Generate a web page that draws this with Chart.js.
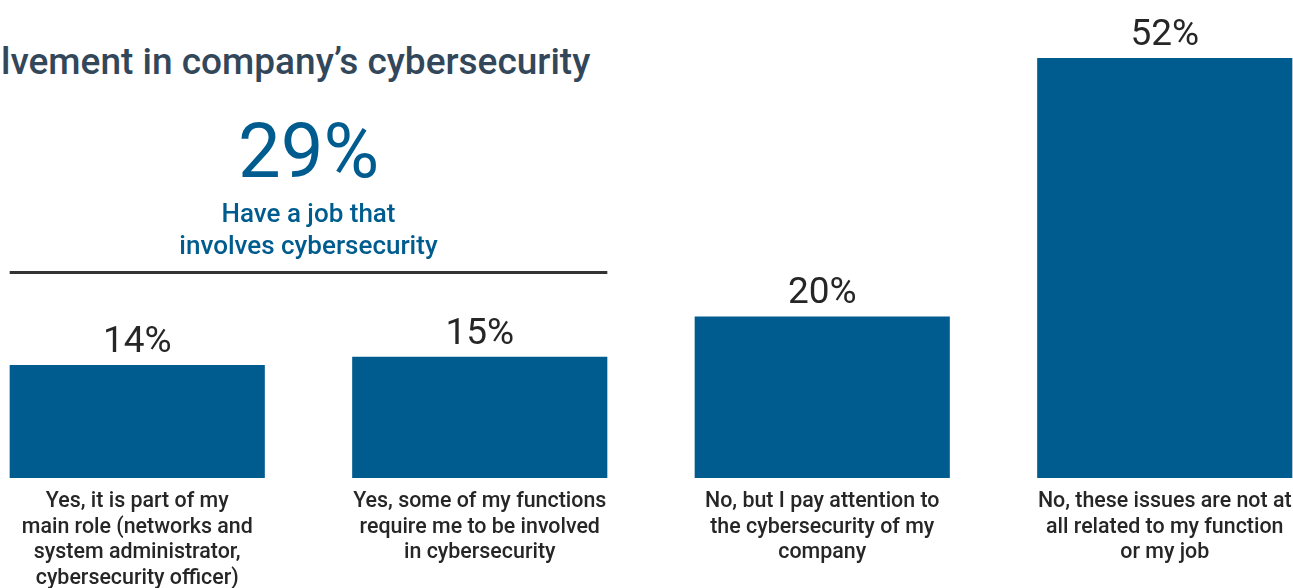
<!DOCTYPE html>
<html>
<head>
<meta charset="utf-8">
<script src="https://cdn.jsdelivr.net/npm/chart.js@4/dist/chart.umd.min.js"></script>
<style>
  html, body { margin: 0; padding: 0; background: #fff; }
  #wrap { position: relative; width: 1293px; height: 588px; overflow: hidden; font-family: Roboto, sans-serif; }
  #title { position: absolute; left: 1px; top: 39px; font-size: 37px; font-weight: 500; color: #33475b; white-space: nowrap; line-height: 46px; }
  #chart { position: absolute; left: -34px; top: 0; }
</style>
</head>
<body>
<div id="wrap">
  <div id="title">lvement in company’s cybersecurity</div>
  <canvas id="chart" width="1370" height="588"></canvas>
</div>
<script>
// answers (each label split into the lines shown under the bar)
var categories = [
  ['Yes, it is part of my', 'main role (networks and', 'system administrator,', 'cybersecurity officer)'],
  ['Yes, some of my functions', 'require me to be involved', 'in cybersecurity'],
  ['No, but I pay attention to', 'the cybersecurity of my', 'company'],
  ['No, these issues are not at', 'all related to my function', 'or my job']
];
var shares = [14, 15, 20, 52]; // % of respondents
var groupLabel = ['Have a job that', 'involves cybersecurity']; // covers the two "Yes" answers

var BLUE = '#005c8f';
var TEXT = '#262626';

// labels, category text and the bracket over the "Yes" bars
var labelPlugin = {
  id: 'labels',
  afterDatasetsDraw: function(chart) {
    var ctx = chart.ctx;
    var bars = chart.getDatasetMeta(0).data;
    ctx.save();
    ctx.textAlign = 'center';

    bars.forEach(function(bar, i) {
      //value above each bar
      ctx.fillStyle = TEXT;
      ctx.font = '37px Roboto';
      ctx.textBaseline = 'alphabetic';
      ctx.fillText(shares[i] + '%', bar.x, bar.y - 13);

      //category text under the bar
      ctx.font = '500 21.4px Roboto';
      ctx.textBaseline = 'middle';
      categories[i].forEach(function(line, j) {
        ctx.fillText(line, bar.x, chart.chartArea.bottom + 24 + j * 25.5);
      });
    });

    //bracket for the two "Yes" answers
    var left = bars[0].x - bars[0].width / 2;
    var right = bars[1].x + bars[1].width / 2;
    var mid = (left + right) / 2;
    ctx.strokeStyle = '#333';
    ctx.lineWidth = 3;
    ctx.beginPath();
    ctx.moveTo(left, 272.5);
    ctx.lineTo(right, 272.5);
    ctx.stroke();

    ctx.fillStyle = BLUE;
    ctx.font = '76px Roboto';
    ctx.textBaseline = 'alphabetic';
    ctx.fillText((shares[0] + shares[1]) + '%', mid, 177);

    ctx.font = '500 26px Roboto';
    ctx.textBaseline = 'middle';
    groupLabel.forEach(function(line, j) {
      ctx.fillText(line, mid, 215 + j * 32);
    });
    ctx.restore();
  }
};

new Chart(document.getElementById('chart'), {
  type: 'bar',
  data: {
    labels: categories,
    datasets: [{
      data: shares,
      backgroundColor: BLUE,
      borderWidth: 0,
      barPercentage: 0.745,
      categoryPercentage: 1
    }]
  },
  options: {
    responsive: false,
    animation: false,
    layout: { padding: { top: 58, bottom: 110, left: 0, right: 0 } },
    plugins: {
      legend: { display: false },
      tooltip: { enabled: false }
    },
    scales: {
      x: { display: false },
      y: { display: false, min: 0, max: 52 }
    }
  },
  plugins: [labelPlugin]
});
</script>
</body>
</html>
